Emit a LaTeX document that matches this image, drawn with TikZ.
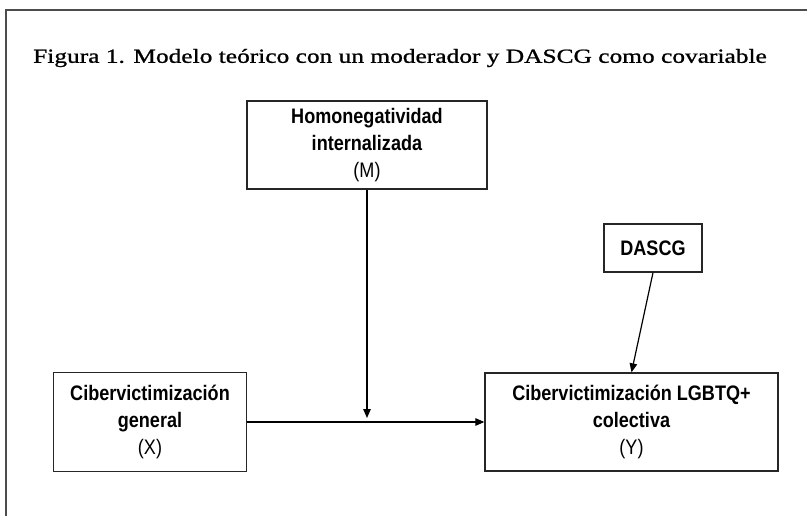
\documentclass[tikz,border=0pt]{standalone}
\usepackage{fontspec}
\setmainfont{Liberation Sans}[FakeStretch=0.86]
\newfontfamily\titlefont{Liberation Serif}[FakeBold=1.0,FakeStretch=1.27]
\usetikzlibrary{arrows.meta}
\begin{document}
\begin{tikzpicture}[x=1pt,y=-1pt,
  box/.style={draw=black!85, line width=1.3pt, rectangle, align=center, inner sep=0pt, font=\fontsize{21}{27}\selectfont},
  arr/.style={draw=black, line width=1.2pt, -{Triangle[length=9pt,width=7.5pt]}},
  frameline/.style={draw=black!70, line width=1.3pt}]
\useasboundingbox (0,0) rectangle (807,516);
\draw[frameline] (6,516) -- (6,10) -- (807,10);
\node[font=\titlefont\fontsize{20}{24}\selectfont, inner sep=0pt] (title) at (400,58) {Figura 1. Modelo teórico con un moderador y DASCG como covariable};
\node[box, minimum width=240pt, minimum height=88pt] (M) at (367,145) {\textbf{Homonegatividad}\\\textbf{internalizada}\\(M)};
\node[box, minimum width=193pt, minimum height=99pt] (X) at (150,422) {\textbf{Cibervictimización}\\\textbf{general}\\(X)};
\node[box, minimum width=293pt, minimum height=98pt] (Y) at (631.5,422) {\textbf{Cibervictimización LGBTQ+}\\\textbf{colectiva}\\(Y)};
\node[box, minimum width=98pt, minimum height=48pt] (D) at (653,248) {\textbf{DASCG}};
\coordinate (mid) at (367,418);
\draw[arr] (X.east) -- (Y.west);
\draw[arr] (M.south) -- (mid);
\draw[arr] (D.south) -- (Y.north);
\end{tikzpicture}
\end{document}
